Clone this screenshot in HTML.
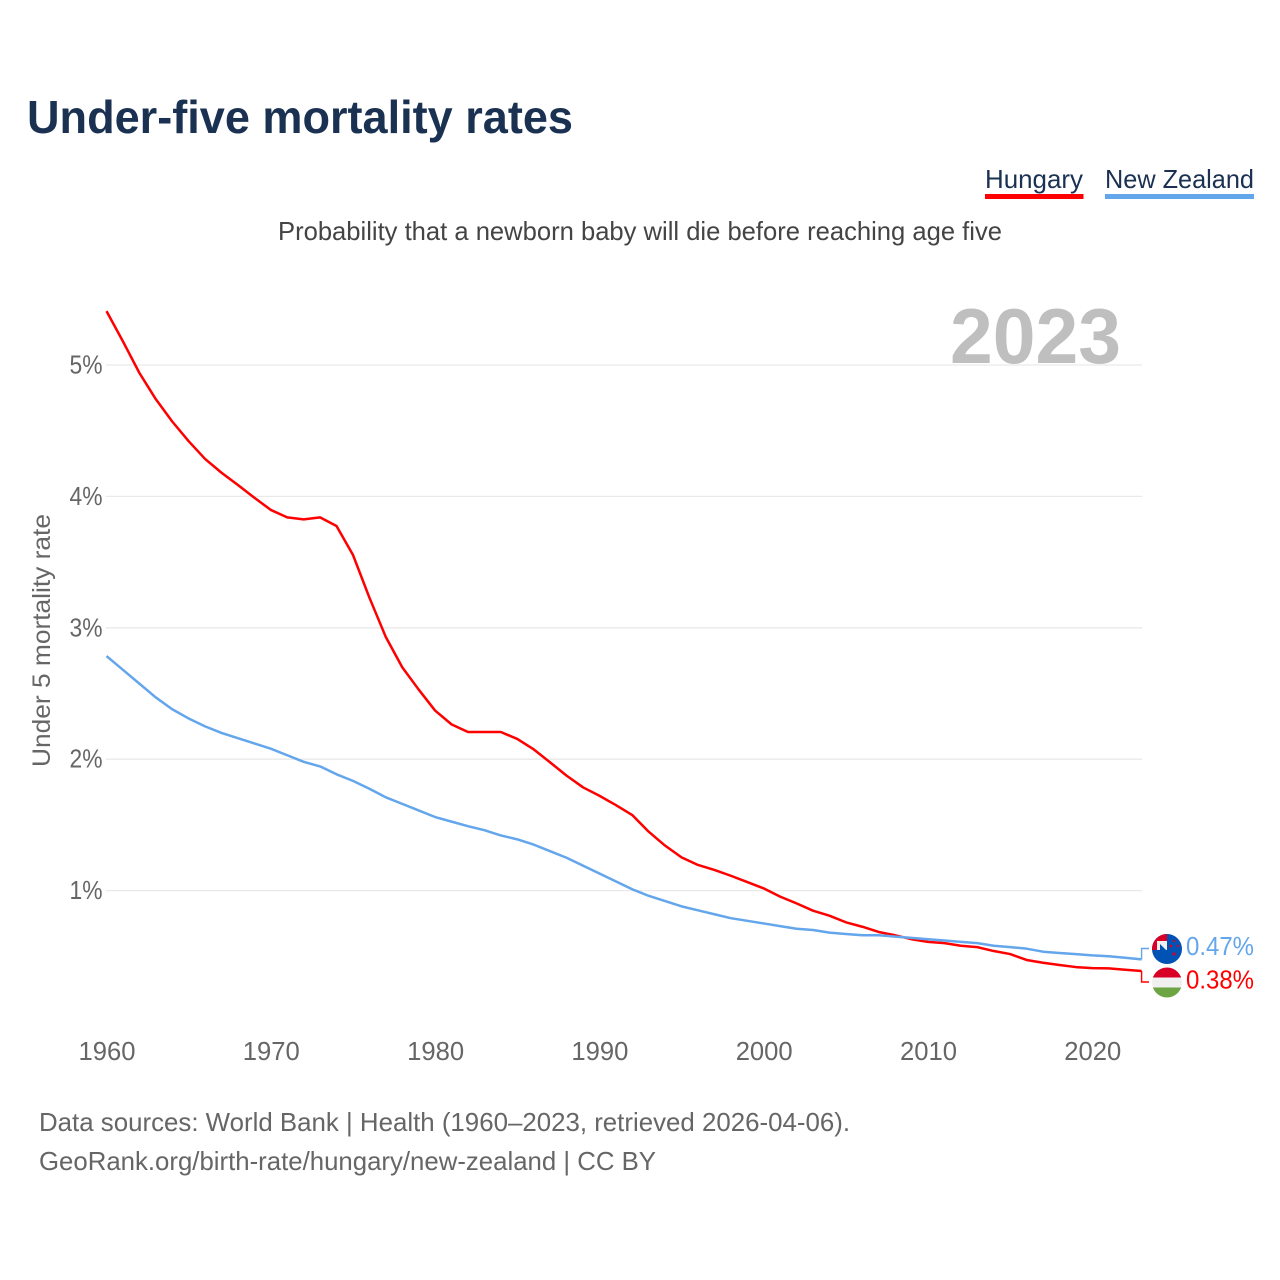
<!DOCTYPE html>
<html lang="en">
<head>
<meta charset="utf-8">
<title>Under-five mortality rates</title>
<style>
html,body{margin:0;padding:0;background:#fff;}
svg{display:block;font-family:"Liberation Sans",sans-serif;}
</style>
</head>
<body>
<svg id="chart" xmlns="http://www.w3.org/2000/svg" width="1280" height="1280" viewBox="0 0 1280 1280">
  <defs>
    <clipPath id="clip-nz"><circle cx="1167" cy="949" r="15"/></clipPath>
    <clipPath id="clip-hu"><circle cx="1167" cy="982.5" r="15"/></clipPath>
  </defs>
  <rect width="1280" height="1280" fill="#fff"/>
  <text x="27" y="133" font-size="46" font-weight="700" fill="#1a3152" textLength="546" lengthAdjust="spacingAndGlyphs">Under-five mortality rates</text>
  <g>
    <text x="985" y="188" font-size="26" fill="#1a3152" textLength="98" lengthAdjust="spacingAndGlyphs">Hungary</text>
    <rect x="985" y="194" width="98.500" height="5" fill="#ff0000"/>
  </g>
  <g>
    <text x="1105" y="188" font-size="26" fill="#1a3152" textLength="149" lengthAdjust="spacingAndGlyphs">New Zealand</text>
    <rect x="1105" y="194" width="149" height="5" fill="#64a6ec"/>
  </g>
  <text x="278" y="240" font-size="26" fill="#444" textLength="724" lengthAdjust="spacingAndGlyphs">Probability that a newborn baby will die before reaching age five</text>
  <g id="grid"></g>
  <text x="950" y="363" font-size="78" font-weight="700" fill="#bfbfbf" textLength="171" lengthAdjust="spacingAndGlyphs">2023</text>
  <g id="yticks"></g>
  <g id="xticks"></g>
  <text transform="translate(50,767) rotate(-90)" font-size="25" fill="#666" textLength="253" lengthAdjust="spacingAndGlyphs">Under 5 mortality rate</text>
  <g id="series"></g>
  <g clip-path="url(#clip-nz)">
    <rect x="1152" y="934" width="30" height="30" fill="#0052b4"/>
    <rect x="1152" y="934" width="15" height="16" fill="#d80027"/>
    <path d="M1157 941 L1167 941 L1167 950 L1157 950 Z" fill="#f0f0f0"/>
    <path d="M1160 944 L1166 950 L1160 950 Z" fill="#0052b4"/>
    <circle cx="1171" cy="946" r="1.400" fill="#d80027"/>
    <circle cx="1178" cy="946" r="1.200" fill="#d80027"/>
    <circle cx="1174" cy="941" r="1.200" fill="#d80027"/>
    <circle cx="1174" cy="954" r="1.600" fill="#d80027"/>
  </g>
  <g clip-path="url(#clip-hu)">
    <rect x="1152" y="967.500" width="30" height="10" fill="#d80027"/>
    <rect x="1152" y="977.500" width="30" height="10" fill="#f0f0f0"/>
    <rect x="1152" y="987.500" width="30" height="10" fill="#6da544"/>
  </g>
  <text x="1186" y="955" font-size="26" fill="#64a6ec" textLength="68" lengthAdjust="spacingAndGlyphs">0.47%</text>
  <text x="1186" y="988.500" font-size="26" fill="#ff0000" textLength="68" lengthAdjust="spacingAndGlyphs">0.38%</text>
  <text x="39" y="1131" font-size="26" fill="#666" textLength="811" lengthAdjust="spacingAndGlyphs">Data sources: World Bank | Health (1960–2023, retrieved 2026-04-06).</text>
  <text x="39" y="1170" font-size="26" fill="#666" textLength="617" lengthAdjust="spacingAndGlyphs">GeoRank.org/birth-rate/hungary/new-zealand | CC BY</text>
</svg>
<script>
const startYear = 1960;
const hungaryValues = [5.41,5.18,4.94,4.74,4.57,4.42,4.285,4.18,4.087,3.99,3.897,3.84,3.825,3.84,3.775,3.555,3.23,2.93,2.70,2.53,2.37,2.265,2.207,2.207,2.207,2.154,2.075,1.976,1.875,1.786,1.722,1.651,1.575,1.448,1.342,1.253,1.195,1.157,1.113,1.065,1.017,0.954,0.903,0.847,0.809,0.759,0.725,0.685,0.66,0.63,0.61,0.60,0.58,0.57,0.54,0.517,0.472,0.451,0.434,0.418,0.41,0.408,0.398,0.388];
const newZealandValues = [2.785,2.68,2.575,2.47,2.38,2.31,2.25,2.20,2.16,2.12,2.08,2.03,1.98,1.945,1.885,1.835,1.775,1.71,1.66,1.61,1.56,1.525,1.49,1.46,1.42,1.39,1.35,1.30,1.25,1.19,1.13,1.07,1.01,0.96,0.92,0.88,0.85,0.82,0.79,0.77,0.75,0.73,0.71,0.70,0.68,0.67,0.66,0.66,0.65,0.64,0.63,0.62,0.61,0.60,0.58,0.57,0.558,0.535,0.525,0.517,0.507,0.50,0.489,0.477];
const yTickValues = [1,2,3,4,5];
const xTickYears = [1960,1970,1980,1990,2000,2010,2020];

const NS = 'http://www.w3.org/2000/svg';
const xScale = function (year) { return 106.5 + (year - 1960) * 16.43; };
const yScale = function (value) { return 1022 - value * 131.4; };

function make(tag, attrs, parent) {
  const el = document.createElementNS(NS, tag);
  Object.keys(attrs).forEach(function (k) { el.setAttribute(k, attrs[k]); });
  parent.appendChild(el);
  return el;
}

const gridGroup = document.getElementById('grid');
const yGroup = document.getElementById('yticks');
const xGroup = document.getElementById('xticks');
const seriesGroup = document.getElementById('series');

yTickValues.forEach(function (v) {
  const line = make('line', { x1: 106, x2: 1142, y1: yScale(v), y2: yScale(v), stroke: '#e9e9e9', 'stroke-width': 1.3 }, gridGroup);
  
  
  const label = make('text', { x: 69.5, y: yScale(v) + 8.5, 'font-size': 26, fill: '#666', textLength: 33, lengthAdjust: 'spacingAndGlyphs' }, yGroup);
  label.textContent = v + '%';
  
  
});

xTickYears.forEach(function (y) {
  const label = make('text', { x: xScale(y) + 0.5, y: 1060, 'text-anchor': 'middle', 'font-size': 26, fill: '#666', textLength: 57, lengthAdjust: 'spacingAndGlyphs' }, xGroup);
  label.textContent = y;
  
  
});

function linePath(values) {
  return values.map(function (v, i) {
    return (i ? 'L' : 'M') + xScale(startYear + i).toFixed(2) + ' ' + yScale(v).toFixed(2);
  }).join(' ');
}

const hungaryLine = make('path', { d: linePath(hungaryValues), fill: 'none', stroke: '#ff0000', 'stroke-width': 2.5, 'stroke-linejoin': 'round' }, seriesGroup);



const newZealandLine = make('path', { d: linePath(newZealandValues), fill: 'none', stroke: '#64a6ec', 'stroke-width': 2.5, 'stroke-linejoin': 'round' }, seriesGroup);



const lastIndex = hungaryValues.length - 1;
const endX = xScale(startYear + lastIndex);

const hungaryConnector = make('path', { d: 'M' + endX + ' ' + yScale(hungaryValues[lastIndex]) + ' L' + endX + ' 982 L1149 982', fill: 'none', stroke: '#ff0000', 'stroke-width': 1.4 }, seriesGroup);



const newZealandConnector = make('path', { d: 'M' + endX + ' ' + yScale(newZealandValues[lastIndex]) + ' L' + endX + ' 948.5 L1149 948.5', fill: 'none', stroke: '#64a6ec', 'stroke-width': 1.4 }, seriesGroup);


</script>
</body>
</html>
